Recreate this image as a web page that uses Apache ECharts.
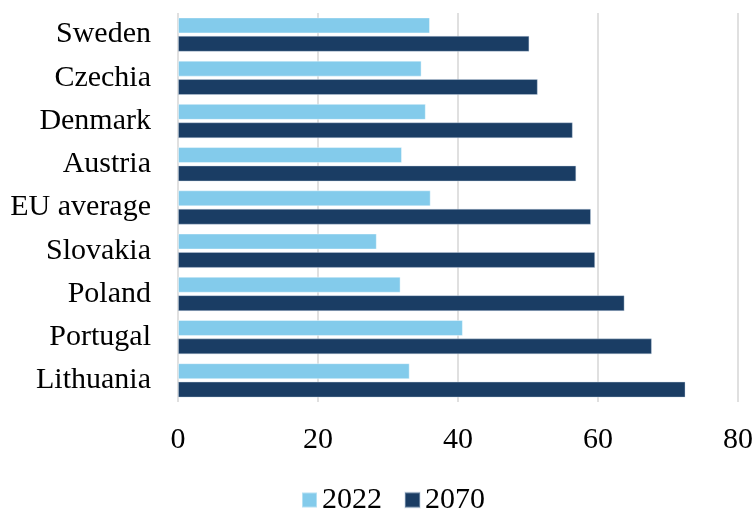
<!DOCTYPE html>
<html>
<head>
<meta charset="utf-8">
<script src="https://cdn.jsdelivr.net/npm/echarts@6/dist/echarts.min.js"></script>
<style>
  html, body { margin: 0; padding: 0; background: #fff; }
  #chart { width: 756px; height: 510px; }
</style>
</head>
<body>
<div id="chart"></div>
<script>
// 数据
const countries = ["Sweden", "Czechia", "Denmark", "Austria", "EU average", "Slovakia", "Poland", "Portugal", "Lithuania"];
const values2022 = [36.0, 34.8, 35.4, 32.0, 36.1, 28.4, 31.8, 40.7, 33.1];
const values2070 = [50.2, 51.4, 56.4, 56.9, 59.0, 59.6, 63.8, 67.7, 72.5];
const xTicks = { min: 0, max: 80, interval: 20 };

const font = "'Liberation Serif', 'Times New Roman', serif";

let chart = echarts.init(document.getElementById("chart"));
let options = {
    animation: false,
    textStyle: { fontFamily: font },
    grid: { left: 178, right: 16, top: 13, bottom: 108 },
    legend: {
        top: 480,
        left: 296,
        icon: "rect",
        itemWidth: 15,
        itemHeight: 15,
        itemGap: 22,
        itemTextGap: 8,
        textStyle: { fontFamily: font, fontSize: 30, color: "#000" },
        data: ["2022", "2070"],
    },
    xAxis: {
        type: "value",
        min: xTicks.min,
        max: xTicks.max,
        interval: xTicks.interval,
        axisLine: { show: false },
        axisTick: { show: false },
        axisLabel: { fontFamily: font, fontSize: 30, color: "#000", margin: 23 },
        splitLine: { lineStyle: { color: "#d6d6d6", width: 1.5 } },
    },
    yAxis: {
        type: "category",
        inverse: true,
        data: countries,
        axisLine: { show: false },
        axisTick: { show: false },
        axisLabel: { fontFamily: font, fontSize: 30, color: "#000", margin: 27 },
    },
    series: [
        {
            name: "2022",
            type: "bar",
            data: values2022,
            barWidth: 16,
            barGap: "15%",
            itemStyle: { color: "#83CBEB", borderColor: "rgba(255,255,255,0.4)", borderWidth: 1 },
        },
        {
            name: "2070",
            type: "bar",
            data: values2070,
            barWidth: 16,
            barGap: "15%",
            itemStyle: { color: "#1A3D64", borderColor: "rgba(200,215,230,0.4)", borderWidth: 1 },
        },
    ],
};
chart.setOption(options);
</script>
</body>
</html>
